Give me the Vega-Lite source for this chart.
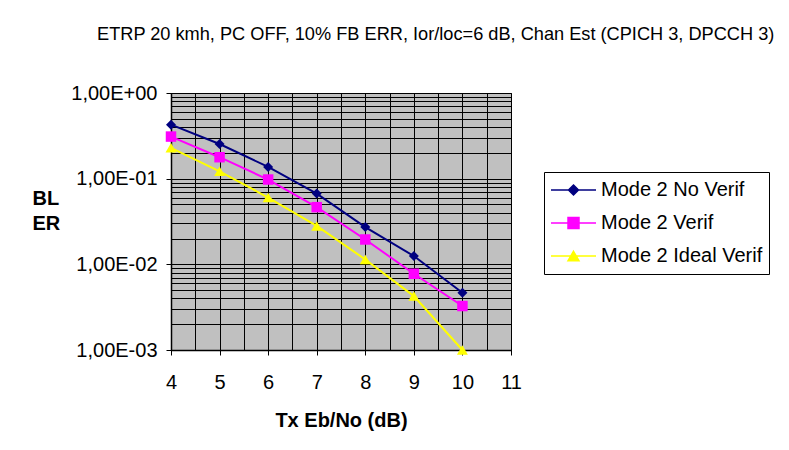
{
  "$schema": "https://vega.github.io/schema/vega-lite/v6.json",
  "width": 340,
  "height": 257,
  "autosize": {"type": "none"},
  "padding": {"left": 171, "top": 93, "right": 278, "bottom": 100},
  "background": "white",
  "config": {
    "font": "Liberation Sans",
    "view": {"fill": "#C0C0C0", "stroke": "black", "strokeWidth": 1},
    "axis": {
      "gridColor": "black", "gridOpacity": 1, "gridWidth": 1,
      "domainColor": "black", "domainWidth": 1.5,
      "tickColor": "black", "tickWidth": 1, "tickSize": 5,
      "labelFont": "Liberation Sans", "labelFontSize": 20, "labelColor": "black",
      "titleFont": "Liberation Sans", "titleFontSize": 20, "titleFontWeight": "bold", "titleColor": "black",
      "labelOverlap": false, "labelFlush": false
    }
  },
  "title": {
    "text": "ETRP 20 kmh, PC OFF, 10% FB ERR, Ior/loc=6 dB, Chan Est (CPICH 3, DPCCH 3)",
    "anchor": "start", "frame": "group", "dx": -74, "offset": 39,
    "fontSize": 18.2, "fontWeight": "normal", "font": "Liberation Sans", "color": "black"
  },
  "data": {
    "values": [
      {"x": 4, "bler": 0.427, "series": "Mode 2 No Verif"},
      {"x": 5, "bler": 0.254, "series": "Mode 2 No Verif"},
      {"x": 6, "bler": 0.137, "series": "Mode 2 No Verif"},
      {"x": 7, "bler": 0.067, "series": "Mode 2 No Verif"},
      {"x": 8, "bler": 0.0272, "series": "Mode 2 No Verif"},
      {"x": 9, "bler": 0.0125, "series": "Mode 2 No Verif"},
      {"x": 10, "bler": 0.00466, "series": "Mode 2 No Verif"},
      {"x": 4, "bler": 0.31, "series": "Mode 2 Verif"},
      {"x": 5, "bler": 0.178, "series": "Mode 2 Verif"},
      {"x": 6, "bler": 0.0977, "series": "Mode 2 Verif"},
      {"x": 7, "bler": 0.0465, "series": "Mode 2 Verif"},
      {"x": 8, "bler": 0.0195, "series": "Mode 2 Verif"},
      {"x": 9, "bler": 0.00776, "series": "Mode 2 Verif"},
      {"x": 10, "bler": 0.00326, "series": "Mode 2 Verif"},
      {"x": 4, "bler": 0.229, "series": "Mode 2 Ideal Verif"},
      {"x": 5, "bler": 0.122, "series": "Mode 2 Ideal Verif"},
      {"x": 6, "bler": 0.0602, "series": "Mode 2 Ideal Verif"},
      {"x": 7, "bler": 0.0281, "series": "Mode 2 Ideal Verif"},
      {"x": 8, "bler": 0.0114, "series": "Mode 2 Ideal Verif"},
      {"x": 9, "bler": 0.00426, "series": "Mode 2 Ideal Verif"},
      {"x": 10, "bler": 0.001, "series": "Mode 2 Ideal Verif"}
    ]
  },
  "encoding": {
    "x": {
      "field": "x", "type": "quantitative",
      "scale": {"domain": [4, 11], "nice": false, "zero": false},
      "axis": {
        "title": "Tx Eb/No (dB)",
        "values": [4, 4.5, 5, 5.5, 6, 6.5, 7, 7.5, 8, 8.5, 9, 9.5, 10, 10.5, 11],
        "labelExpr": "datum.value % 1 == 0 ? format(datum.value, 'd') : ''",
        "tickOpacity": {"condition": {"test": "datum.value % 1 == 0", "value": 1}, "value": 0},
        "labelPadding": 17, "titlePadding": 18
      }
    },
    "y": {
      "field": "bler", "type": "quantitative",
      "scale": {"type": "log", "domain": [0.001, 1], "nice": false},
      "axis": {
        "title": ["BL", "ER"],
        "values": [0.001, 0.002, 0.003, 0.004, 0.005, 0.006, 0.007, 0.008, 0.009, 0.01, 0.02, 0.03, 0.04, 0.05, 0.06, 0.07, 0.08, 0.09, 0.1, 0.2, 0.3, 0.4, 0.5, 0.6, 0.7, 0.8, 0.9, 1],
        "labelExpr": "datum.value == 1 ? '1,00E+00' : datum.value == 0.1 ? '1,00E-01' : datum.value == 0.01 ? '1,00E-02' : datum.value == 0.001 ? '1,00E-03' : ''",
        "tickOpacity": {"condition": {"test": "datum.value == 1 || datum.value == 0.1 || datum.value == 0.01 || datum.value == 0.001", "value": 1}, "value": 0},
        "labelPadding": 9,
        "titleAngle": 0, "titleAlign": "left", "titleBaseline": "top",
        "titleX": -139, "titleY": 95, "titleLineHeight": 25
      }
    },
    "color": {
      "field": "series", "type": "nominal",
      "scale": {
        "domain": ["Mode 2 No Verif", "Mode 2 Verif", "Mode 2 Ideal Verif"],
        "range": ["#000080", "#FF00FF", "#FFFF00"]
      },
      "legend": null
    }
  },
  "layer": [
    {
      "mark": {"type": "line", "strokeWidth": 2},
      "encoding": {
        "color": {
          "field": "series", "type": "nominal",
          "legend": {
            "title": null, "orient": "none", "legendX": 373, "legendY": 79,
            "fillColor": "white", "strokeColor": "black", "padding": 6,
            "labelFontSize": 20, "labelFont": "Liberation Sans", "labelColor": "black", "labelLimit": 400,
            "labelOffset": 4, "symbolSize": 2025, "symbolStrokeWidth": 1.5,
            "clipHeight": 24, "rowPadding": 9,
            "encode": {
              "symbols": {
                "update": {
                  "shape": {"signal": "datum.value == 'Mode 2 No Verif' ? 'M-1,0H1M0,-0.222L0.222,0L0,0.222L-0.222,0Z' : datum.value == 'Mode 2 Verif' ? 'M-1,0H1M-0.244,-0.244H0.244V0.244H-0.244Z' : 'M-1,0H1M0,-0.211L0.244,0.211L-0.244,0.211Z'"},
                  "fill": {"signal": "datum.value == 'Mode 2 No Verif' ? '#000080' : datum.value == 'Mode 2 Verif' ? '#FF00FF' : '#FFFF00'"},
                  "stroke": {"signal": "datum.value == 'Mode 2 No Verif' ? '#000080' : datum.value == 'Mode 2 Verif' ? '#FF00FF' : '#FFFF00'"},
                  "opacity": {"value": 1}
                }
              }
            }
          }
        }
      }
    },
    {
      "transform": [{"filter": "datum.series == 'Mode 2 No Verif'"}],
      "mark": {"type": "point", "shape": "diamond", "filled": true, "opacity": 1, "size": 100}
    },
    {
      "transform": [{"filter": "datum.series == 'Mode 2 Verif'"}],
      "mark": {"type": "point", "shape": "square", "filled": true, "opacity": 1, "size": 110}
    },
    {
      "transform": [{"filter": "datum.series == 'Mode 2 Ideal Verif'"}],
      "mark": {"type": "point", "shape": "triangle-up", "filled": true, "opacity": 1, "size": 120}
    }
  ]
}
